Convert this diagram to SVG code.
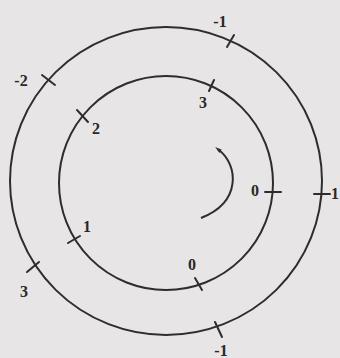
<svg xmlns="http://www.w3.org/2000/svg" width="340" height="358" viewBox="0 0 340 358">
<defs>
<style>
.c{fill:none;stroke:#2e2c2c;stroke-width:2}
.t{stroke:#2e2c2c;stroke-width:2;stroke-linecap:round}
.l{font-family:"Liberation Serif",serif;font-size:16px;font-weight:bold;fill:#2a2828;text-anchor:middle}
</style>
<marker id="ah" viewBox="0 0 10 6" refX="3" refY="3" markerWidth="3.5" markerHeight="2.2" orient="auto-start-reverse">
<path d="M0,0 L10,3 L0,6 z" fill="#2e2c2c"/>
</marker>
</defs>
<rect width="340" height="358" fill="#e7e5e5"/>
<g id="outer-circle">
<ellipse class="c" cx="166" cy="181" rx="156" ry="154"/>
</g>
<g id="inner-circle">
<circle class="c" cx="166" cy="183" r="107"/>
</g>
<g id="rotation-arrow">
<path class="c" d="M219,150 C238,165 242,202 201,218" marker-start="url(#ah)"/>
</g>
<g id="outer-ticks">
<g id="o-m1-top"><line class="t" x1="227" y1="47" x2="234" y2="35"/><text class="l" x="220" y="27">-1</text></g>
<g id="o-m2"><line class="t" x1="42" y1="75" x2="55" y2="85"/><text class="l" x="21" y="86">-2</text></g>
<g id="o-1"><line class="t" x1="314" y1="194" x2="330" y2="194"/><text class="l" x="331" y="199" style="text-anchor:start">1</text></g>
<g id="o-3"><line class="t" x1="27" y1="272" x2="39" y2="262"/><text class="l" x="24" y="297">3</text></g>
<g id="o-m1-bottom"><line class="t" x1="215" y1="322" x2="222" y2="337"/><text class="l" x="221" y="356">-1</text></g>
</g>
<g id="inner-ticks">
<g id="i-3"><line class="t" x1="209" y1="91" x2="214" y2="80"/><text class="l" x="203" y="108">3</text></g>
<g id="i-2"><line class="t" x1="77" y1="110" x2="88" y2="122"/><text class="l" x="96" y="134">2</text></g>
<g id="i-0-right"><line class="t" x1="265" y1="192" x2="281" y2="192"/><text class="l" x="255" y="196">0</text></g>
<g id="i-1"><line class="t" x1="68" y1="243" x2="80" y2="236"/><text class="l" x="87" y="232">1</text></g>
<g id="i-0-bottom"><line class="t" x1="195" y1="278" x2="202" y2="290"/><text class="l" x="192" y="270">0</text></g>
</g>
</svg>
